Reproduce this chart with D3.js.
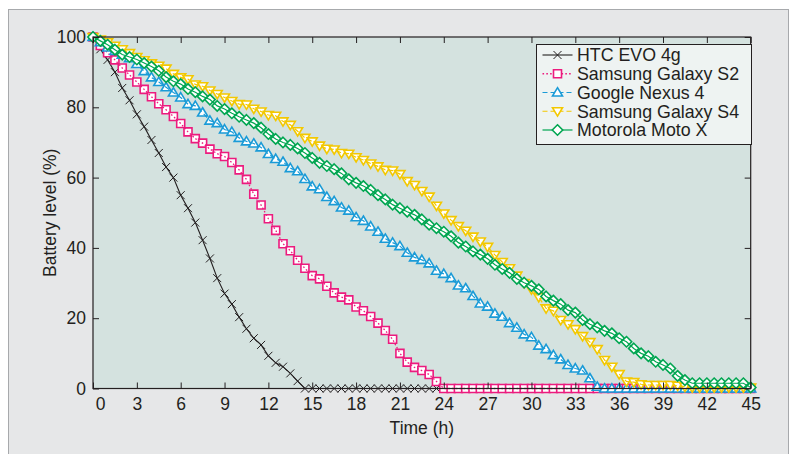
<!DOCTYPE html>
<html>
<head>
<meta charset="utf-8">
<script src="https://cdn.jsdelivr.net/npm/d3@7"></script>
<style>
  html, body { margin: 0; padding: 0; background: #ffffff; }
  svg { display: block; }
  text { font-family: "Liberation Sans", Arial, sans-serif; fill: #231f20; }
</style>
</head>
<body>
<svg id="chart" width="796" height="454"></svg>
<script>
// ---------------- data ----------------
const hours = [0,0.5,1,1.5,2,2.5,3,3.5,4,4.5,5,5.5,6,6.5,7,7.5,8,8.5,9,9.5,10,10.5,11,11.5,12,12.5,13,13.5,14,14.5,
  15,15.5,16,16.5,17,17.5,18,18.5,19,19.5,20,20.5,21,21.5,22,22.5,23,23.5,24,24.5,25,25.5,26,26.5,27,27.5,28,28.5,29,29.5,
  30,30.5,31,31.5,32,32.5,33,33.5,34,34.5,35,35.5,36,36.5,37,37.5,38,38.5,39,39.5,40,40.5,41,41.5,42,42.5,43,43.5,44,44.5,45];

const htcEvo4g = [100,96.5,93.5,90,85.5,82,78,74.5,70.7,67,63,60,55,51.3,47.2,42.2,37,31.4,27,24,20.3,17,14.3,12.4,9.3,7.3,6.2,4.3,2.1,0,
  0,0,0,0,0,0,0,0,0,0,0,0,0,0,0,0,0,0,0,0,0,0,0,0,0,0,0,0,0,0,
  0,0,0,0,0,0,0,0,0,0,0,0,0,0,0,0,0,0,0,0,0,0,0,0,0,0,0,0,0,0,0];

const samsungS2 = [100,97.6,95.5,93.5,91.2,89.2,87.2,85.1,83,81,79.3,77.4,75.4,73,71.1,69.8,68.1,66.8,66,64.3,62.2,59.5,55.3,52.2,48.3,45,41.2,39.2,36.5,34.2,
  32.1,31.2,29.1,27.2,26,25.2,23.2,22.1,20.5,18.6,16.5,14,10,7.5,6,5.1,4,2,0,0,0,0,0,0,0,0,0,0,0,0,
  0,0,0,0,0,0,0,0,0,0,0,0,0,0,0,0,0,0,0,0,0,0,0,0,0,0,0,0,0,0,0];

const nexus4 = [100,98.5,97,96,95,94,92.3,90.3,88.5,87.2,85.7,84.2,82.8,80.9,80.4,78.5,76.2,75.5,73.7,73,71.3,70.3,69.7,68.6,66.7,65.3,64.5,62.7,61.8,59.6,
  57.5,56.7,54.5,53.3,51.5,50.6,48.7,47.7,46.1,44.6,42.6,41.5,40.5,38.6,37.3,36.6,35.6,33.5,32.6,31.4,29.3,28.5,26.3,24.2,23.3,21.3,20.4,18.6,17.3,15.4,
  14.6,12.2,11.2,9.5,8.3,6.7,5.7,5.1,2.9,0.5,0,0,0,0,0,0,0,0,0,0,0,0,0,0,0,0,0,0,0,0,0];

const samsungS4 = [100,99.3,98.5,97.5,96.5,95.4,94.3,93.4,92.5,91.8,91,89.5,88.5,88,86.5,86,84.8,83.8,82.8,81.8,80.9,80.8,79.6,78.8,77.8,77.6,76,75,73.2,71.3,
  70.3,69.1,68.2,68,67,66.8,65.8,65,64,63.2,62.2,62,61,59,57.9,56.2,54.6,52,49.8,47.9,46.2,44.9,43.2,41.8,40.3,38,36,34.2,32.1,30,
  28.2,26,22.8,22.1,19.5,18.3,16.9,14.9,13.2,11.2,8.1,6.2,4.1,2,1.8,1.2,1,1,1,1,0.8,0.5,0.3,0.3,0.3,0.3,0.3,0.3,0.3,0.3,0.3];

const motoX = [100,98.9,97.8,96.4,95,94.3,93.6,92.6,91.6,90.4,88.6,87.4,86.6,85.2,84.3,83.1,82.2,80.4,79.5,78.3,77.3,76.4,75.5,74.2,72.4,71,70,69.3,68.3,67,
  65.6,64.2,63.3,62.4,61.2,59.5,58.5,57.6,56.5,55,53.8,52.3,51.3,50.3,49.4,48.1,46.6,45.6,44.6,43.3,41.5,40.4,39,38.1,36.9,35.2,34,32.9,31.2,30.1,
  29.2,28.2,26.2,25,24,22.3,21.6,19.5,18.3,17.4,16.4,15.7,14.3,13.3,11.4,10,9.2,7.6,6.7,5.7,3.6,2.4,1.5,1.5,1.5,1.5,1.5,1.5,1.5,1.5,0.3];

const seriesNames = ["HTC EVO 4g", "Samsung Galaxy S2", "Google Nexus 4", "Samsung Galaxy S4", "Motorola Moto X"];
const seriesValues = [htcEvo4g, samsungS2, nexus4, samsungS4, motoX];
const xTicks = [0,3,6,9,12,15,18,21,24,27,30,33,36,39,42,45];
const yTicks = [0,20,40,60,80,100];
const xLabel = "Time (h)";
const yLabel = "Battery level (%)";

// ---------------- styles ----------------
const styles = [
  {color: "#231f20", dash: null,  width: 1.1, marker: "times"},
  {color: "#ec1b7e", dash: "1.6,2.2", width: 1.3, marker: "square"},
  {color: "#1a9bd7", dash: "5,3", width: 1.2, marker: "triUp"},
  {color: "#f3c800", dash: "5,3", width: 1.2, marker: "triDown"},
  {color: "#00a651", dash: null,  width: 1.2, marker: "diamond"}
];

function markerPath(type) {
  switch (type) {
    case "times":   return "M-4,-4L4,4M-4,4L4,-4";
    case "square":  return "M-4,-4H4V4H-4Z";
    case "triUp":   return "M0,-4.8L5,3.5H-5Z";
    case "triDown": return "M0,4.8L5,-3.5H-5Z";
    case "diamond": return "M0,-5.2L5.2,0L0,5.2L-5.2,0Z";
  }
}

// ---------------- layout ----------------
const svg = d3.select("#chart");
const plot = {left: 93, right: 750.7, top: 37, bottom: 388.5};

// outer frame
svg.append("rect")
  .attr("x", 8.5).attr("y", 9.5).attr("width", 780).attr("height", 470)
  .attr("fill", "#e6e7e8").attr("stroke", "#a7a9ac").attr("stroke-width", 1);

const x = d3.scaleLinear().domain([0, 45]).range([plot.left, plot.right]);
const y = d3.scaleLinear().domain([0, 100]).range([plot.bottom, plot.top]);

// plot background
svg.append("rect")
  .attr("x", plot.left).attr("y", plot.top)
  .attr("width", plot.right - plot.left).attr("height", plot.bottom - plot.top)
  .attr("fill", "#d4e2df");

// series
const line = d3.line().x((d, i) => x(hours[i])).y(d => y(d));
const gSeries = svg.append("g");
seriesValues.forEach((vals, si) => {
  const st = styles[si];
  const g = gSeries.append("g");
  g.selectAll("path.mk").data(vals).enter().append("path")
    .attr("class", "mk")
    .attr("d", markerPath(st.marker))
    .attr("transform", (d, i) => `translate(${x(hours[i])},${y(d)})`)
    .attr("fill", st.marker === "times" ? "none" : "#ffffff")
    .attr("stroke", st.color).attr("stroke-width", st.marker === "times" ? 1 : 1.6);
  g.append("path").datum(vals)
    .attr("d", line)
    .attr("fill", "none")
    .attr("stroke", st.color)
    .attr("stroke-width", st.width)
    .attr("stroke-dasharray", st.dash);
});

// axes
const axFont = 17.5;
const gx = svg.append("g").attr("transform", `translate(0,${plot.bottom})`)
  .call(d3.axisBottom(x).tickValues(xTicks).tickSizeInner(-6).tickSizeOuter(0).tickPadding(9));
const gy = svg.append("g").attr("transform", `translate(${plot.left},0)`)
  .call(d3.axisLeft(y).tickValues(yTicks).tickSizeInner(-6).tickSizeOuter(0).tickPadding(7));
const gxt = svg.append("g").attr("transform", `translate(0,${plot.top})`)
  .call(d3.axisTop(x).tickValues(xTicks).tickSizeInner(-6).tickSizeOuter(0).tickFormat(""));
const gyr = svg.append("g").attr("transform", `translate(${plot.right},0)`)
  .call(d3.axisRight(y).tickValues(yTicks).tickSizeInner(-6).tickSizeOuter(0).tickFormat(""));
[gx, gy, gxt, gyr].forEach(g => {
  g.select(".domain").remove();
  g.selectAll("line").attr("stroke", "#231f20").attr("stroke-width", 1);
  g.selectAll("text").attr("font-size", axFont).attr("fill", "#231f20")
    .style("font-family", '"Liberation Sans", Arial, sans-serif');
});
// first x label sits slightly right of the corner in the reference
gx.selectAll(".tick").filter(d => d === 0).select("text").attr("dx", 7);

// plot frame
svg.append("rect")
  .attr("x", plot.left).attr("y", plot.top)
  .attr("width", plot.right - plot.left).attr("height", plot.bottom - plot.top)
  .attr("fill", "none").attr("stroke", "#231f20").attr("stroke-width", 1.2);

// axis labels
svg.append("text")
  .attr("x", (plot.left + plot.right) / 2).attr("y", 434)
  .attr("text-anchor", "middle").attr("font-size", axFont)
  .text(xLabel);
svg.append("text")
  .attr("transform", `translate(56,${(plot.top + plot.bottom) / 2}) rotate(-90)`)
  .attr("text-anchor", "middle").attr("font-size", axFont)
  .text(yLabel);

// legend
const lg = {x: 536, y: 44, w: 215, h: 100};
const gl = svg.append("g");
gl.append("rect").attr("x", lg.x + 0.5).attr("y", lg.y + 0.5).attr("width", lg.w).attr("height", lg.h)
  .attr("fill", "#eef3f2").attr("stroke", "#231f20").attr("stroke-width", 1);
seriesNames.forEach((name, i) => {
  const st = styles[i];
  const cy = 55 + i * 18.75;
  gl.append("line").attr("x1", 542.5).attr("x2", 572.5).attr("y1", cy).attr("y2", cy)
    .attr("stroke", st.color).attr("stroke-width", st.width).attr("stroke-dasharray", st.dash);
  gl.append("path").attr("d", markerPath(st.marker))
    .attr("transform", `translate(557.5,${cy})`)
    .attr("fill", st.marker === "times" ? "none" : "#ffffff")
    .attr("stroke", st.color).attr("stroke-width", st.marker === "times" ? 1 : 1.6);
  gl.append("text").attr("x", 577).attr("y", cy).attr("dy", "0.36em")
    .attr("font-size", 17.8).text(name);
});
</script>
</body>
</html>
